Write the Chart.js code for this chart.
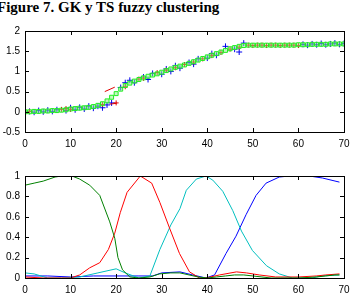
<!DOCTYPE html>
<html>
<head>
<meta charset="utf-8">
<script src="https://cdn.jsdelivr.net/npm/chart.js@4"></script>
<style>
  body { margin: 0; background: #fff; width: 360px; height: 305px; overflow: hidden; position: relative; }
  #title { position: absolute; left: -3px; top: -1px; font: bold 15px "Liberation Serif", "Times New Roman", serif; color: #000; white-space: nowrap; }
  .box { position: absolute; left: 0; width: 360px; }
  #topBox { top: 20px; height: 135px; }
  #botBox { top: 165px; height: 140px; }
</style>
</head>
<body>
<div id="title">Figure 7. GK y TS fuzzy clustering</div>
<div class="box" id="topBox"><canvas id="topChart"></canvas></div>
<div class="box" id="botBox"><canvas id="botChart"></canvas></div>
<script>
// top plot: data (green squares), model output (blue +), local models (red +)
const greenX = [0,1,2,3,4,5,6,7,8,9,10,11,12,13,14,15,16,17,18,19,20,21,22,23,24,25,26,27,28,29,30,31,32,33,34,35,36,37,38,39,40,41,42,43,44,45,46,47,48,49,50,51,52,53,54,55,56,57,58,59,60,61,62,63,64,65,66,67,68,69,70];
const greenY = [0.00,0.00,0.01,0.01,0.02,0.02,0.03,0.03,0.04,0.05,0.07,0.08,0.09,0.10,0.11,0.13,0.16,0.20,0.27,0.36,0.45,0.56,0.65,0.71,0.76,0.80,0.84,0.88,0.91,0.94,0.98,1.02,1.06,1.10,1.13,1.16,1.20,1.24,1.28,1.32,1.36,1.40,1.44,1.48,1.52,1.56,1.59,1.62,1.64,1.65,1.65,1.65,1.65,1.65,1.65,1.65,1.65,1.65,1.65,1.65,1.66,1.66,1.66,1.67,1.67,1.67,1.67,1.68,1.68,1.68,1.68];

const blueX = [0,1,2,3,4,5,6,7,9,10,11,12,13,14,15,16,17,18,19,21,22,23,24,26,27,28,30,31,32,33,34,36,37,38,40,41,42,44,46,47,48,61,62,63,64,65,66,67,68,69,70];
const blueY = [-0.02,0.01,-0.01,0.03,0.00,0.04,0.01,0.05,0.03,0.10,0.05,0.11,0.07,0.14,0.09,0.14,0.10,0.17,0.22,0.60,0.72,0.78,0.72,0.86,0.80,0.95,0.93,1.06,1.00,1.14,1.08,1.22,1.18,1.31,1.33,1.44,1.40,1.62,1.55,1.48,1.70,1.67,1.65,1.68,1.66,1.69,1.66,1.68,1.70,1.67,1.69];

const redX = [1,8,9,10,17,20,22,25,26,29,31,33,35,37,39,41,43,45,47,49,50,51,52,53,54,55,56,57,58,59,60];
const redY = [0.01,0.06,0.08,0.06,0.18,0.22,0.62,0.81,0.83,0.97,1.03,1.09,1.17,1.23,1.31,1.39,1.47,1.55,1.60,1.65,1.64,1.65,1.65,1.64,1.65,1.65,1.64,1.65,1.65,1.65,1.64];

const redSegA_X = [17.5, 19.7];
const redSegA_Y = [0.50, 0.61];
const redSegB_X = [18.6, 20.1];
const redSegB_Y = [0.19, 0.21];

// bottom plot: membership functions
const mfGreenX = [0,2,4,6.6,8,10.3,12,14.2,16.4,18.6,19.7,20.4,21.4,23,25,27.4,29.5,32,34,36,38,40,42,44,46,48,50,52,54,56,60,64,66,68,69];
const mfGreenY = [0.91,0.93,0.95,0.99,1.00,1.00,0.97,0.91,0.81,0.55,0.39,0.20,0.08,0.01,0.00,0.01,0.04,0.05,0.05,0.03,0.01,0.00,0.01,0.02,0.03,0.03,0.02,0.01,0.00,0.00,0.00,0.01,0.02,0.03,0.03];

const mfRedX = [0,4,8,10,12,14.2,16.4,18.3,19.7,20.9,22.4,25.3,27.8,29.6,31.8,33.9,36.1,38.3,39.7,42.7,46.4,48.6,51.4,55,60,63.9,66,69];
const mfRedY = [0.01,0.00,0.00,0.00,0.03,0.10,0.15,0.28,0.44,0.64,0.84,1.00,0.93,0.74,0.48,0.24,0.06,0.00,0.00,0.03,0.06,0.05,0.03,0.01,0.01,0.02,0.03,0.04];

const mfCyanX = [0,2,5,8,12,16,20,22,25,27.4,29.6,32,34,35.4,37.6,39.7,41.2,43.4,45.6,47.5,49.9,53,55.8,58.7,63,65,69];
const mfCyanY = [0.05,0.04,0.00,0.00,0.01,0.05,0.09,0.05,0.00,0.02,0.28,0.52,0.68,0.86,0.97,1.00,0.96,0.85,0.66,0.46,0.27,0.12,0.04,0.00,0.00,0.02,0.03];

const mfBlueX = [0,5,10,15,20,25,28,30,34,36.8,39.7,41.6,44.1,46.3,48.5,50.7,52.9,55.8,58,62.4,65.3,69];
const mfBlueY = [0.02,0.02,0.01,0.02,0.02,0.02,0.02,0.05,0.06,0.03,0.00,0.03,0.24,0.41,0.62,0.81,0.93,0.99,1.00,1.00,0.98,0.94];

const xTicks = [0,10,20,30,40,50,60,70];

function pts(xs, ys) {
  return xs.map((x, i) => ({ x: x, y: ys[i] }));
}

// matlab style box with inward ticks on all four sides
const boxPlugin = {
  id: "boxTicks",
  afterDraw(chart) {
    const c = chart.ctx, a = chart.chartArea;
    const xs = chart.scales.x, ys = chart.scales.y;
    c.save();
    c.strokeStyle = "#000";
    c.lineWidth = 1;
    c.strokeRect(Math.round(a.left) + 0.5, Math.round(a.top) + 0.5, Math.round(a.right - a.left), Math.round(a.bottom - a.top));
    c.beginPath();
    xs.ticks.forEach(t => {
      const px = Math.round(xs.getPixelForValue(t.value)) + 0.5;
      c.moveTo(px, a.bottom); c.lineTo(px, a.bottom - 4);
      c.moveTo(px, a.top); c.lineTo(px, a.top + 4);
    });
    ys.ticks.forEach(t => {
      const py = Math.round(ys.getPixelForValue(t.value)) + 0.5;
      c.moveTo(a.left, py); c.lineTo(a.left + 4, py);
      c.moveTo(a.right, py); c.lineTo(a.right - 4, py);
    });
    c.stroke();
    c.restore();
  }
};

function axes(yMin, yMax, yStep, yWidth, xHeight) {
  const font = { family: "Liberation Sans, Arial, sans-serif", size: 10 };
  return {
    x: {
      type: "linear", min: 0, max: 70,
      afterBuildTicks: s => { s.ticks = xTicks.map(v => ({ value: v })); },
      afterFit: s => { s.height = xHeight; },
      grid: { display: false, drawTicks: false },
      border: { display: false },
      ticks: { color: "#000", font: font, padding: 6, maxRotation: 0, autoSkip: false }
    },
    y: {
      type: "linear", min: yMin, max: yMax,
      afterFit: s => { s.width = yWidth; },
      grid: { display: false, drawTicks: false },
      border: { display: false },
      ticks: {
        color: "#000", font: font, padding: 5, stepSize: yStep, autoSkip: false,
        callback: v => String(Math.round(v * 10) / 10)
      }
    }
  };
}

const baseOpts = {
  responsive: true,
  maintainAspectRatio: false,
  animation: false,
  devicePixelRatio: 1,
  plugins: { legend: { display: false }, tooltip: { enabled: false } }
};

new Chart(document.getElementById("topChart").getContext("2d"), {
  type: "scatter",
  data: {
    datasets: [
      { data: pts(greenX, greenY), pointStyle: "rect", pointRadius: 2.8, borderColor: "#22ee22", backgroundColor: "rgba(140,240,140,0.5)", borderWidth: 1, showLine: false },
      { data: pts(redSegA_X, redSegA_Y), showLine: true, borderColor: "#e00000", borderWidth: 1, pointRadius: 0 },
      { data: pts(redSegB_X, redSegB_Y), showLine: true, borderColor: "#e00000", borderWidth: 1, pointRadius: 0 },
      { data: pts(redX, redY), pointStyle: "cross", pointRadius: 2.5, borderColor: "#e00000", borderWidth: 1, showLine: false },
      { data: pts(blueX, blueY), pointStyle: "cross", pointRadius: 3, borderColor: "#0000ee", borderWidth: 1, showLine: false }
    ]
  },
  options: Object.assign({}, baseOpts, {
    layout: { padding: { top: 6, right: 16, left: 0, bottom: 0 } },
    scales: axes(-0.5, 2, 0.5, 25, 23)
  }),
  plugins: [boxPlugin]
});

new Chart(document.getElementById("botChart").getContext("2d"), {
  type: "scatter",
  data: {
    datasets: [
      { data: pts(mfGreenX, mfGreenY), borderColor: "#008000" },
      { data: pts(mfRedX, mfRedY), borderColor: "#ff0000" },
      { data: pts(mfCyanX, mfCyanY), borderColor: "#00bfbf" },
      { data: pts(mfBlueX, mfBlueY), borderColor: "#0000ff" }
    ].map(d => Object.assign(d, { showLine: true, pointRadius: 0, borderWidth: 1, tension: 0 }))
  },
  options: Object.assign({}, baseOpts, {
    layout: { padding: { top: 7, right: 16, left: 0, bottom: 0 } },
    scales: axes(0, 1, 0.2, 25, 27)
  }),
  plugins: [boxPlugin]
});
</script>
</body>
</html>
